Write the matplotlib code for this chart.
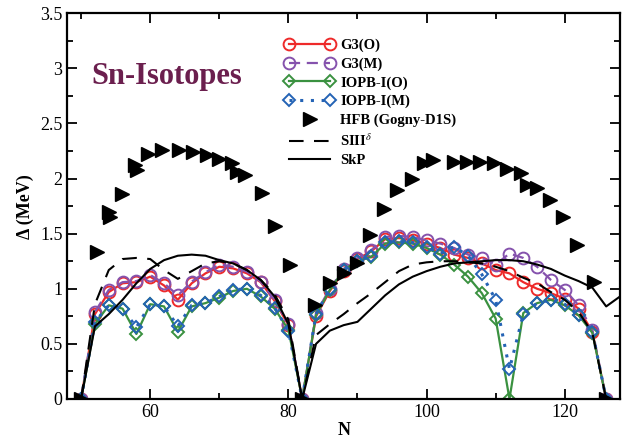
import matplotlib
matplotlib.use("Agg")
import matplotlib.pyplot as plt
from matplotlib.legend_handler import HandlerLine2D
from matplotlib.ticker import MultipleLocator, FormatStrFormatter

plt.rcParams['font.family'] = ['Liberation Serif', 'DejaVu Serif']
plt.rcParams['mathtext.fontset'] = 'stix'

# neutron numbers for the RMF curves
N = [50, 52, 54, 56, 58, 60, 62, 64, 66, 68, 70, 72, 74, 76, 78, 80, 82,
     84, 86, 88, 90, 92, 94, 96, 98, 100, 102, 104, 106, 108, 110, 112,
     114, 116, 118, 120, 122, 124, 126]

g3_o = [0, 0.77, 0.97, 1.05, 1.06, 1.11, 1.03, 0.90, 1.05, 1.14, 1.20, 1.185, 1.14, 1.06, 0.89, 0.67, 0,
        0.75, 0.98, 1.16, 1.27, 1.34, 1.45, 1.46, 1.44, 1.41, 1.37, 1.31, 1.28, 1.23, 1.17, 1.14,
        1.06, 1.00, 0.96, 0.91, 0.82, 0.61, 0]
g3_m = [0, 0.79, 0.99, 1.06, 1.07, 1.125, 1.05, 0.94, 1.065, 1.15, 1.22, 1.20, 1.155, 1.065, 0.90, 0.68, 0,
        0.78, 1.00, 1.18, 1.28, 1.35, 1.47, 1.48, 1.47, 1.44, 1.41, 1.37, 1.31, 1.28, 1.22, 1.32,
        1.28, 1.20, 1.08, 0.99, 0.85, 0.63, 0]
iopb_o = [0, 0.68, 0.85, 0.82, 0.59, 0.86, 0.84, 0.61, 0.84, 0.87, 0.92, 0.98, 1.00, 0.93, 0.82, 0.63, 0,
          0.76, 0.99, 1.17, 1.25, 1.29, 1.41, 1.42, 1.41, 1.37, 1.31, 1.22, 1.11, 0.96, 0.73, 0,
          0.78, 0.87, 0.90, 0.85, 0.76, 0.60, 0]
iopb_m = [0, 0.70, 0.85, 0.82, 0.65, 0.86, 0.84, 0.66, 0.85, 0.87, 0.93, 0.99, 1.00, 0.94, 0.83, 0.62, 0,
          0.77, 1.00, 1.17, 1.25, 1.30, 1.42, 1.43, 1.42, 1.38, 1.32, 1.38, 1.30, 1.13, 0.90, 0.27,
          0.77, 0.87, 0.90, 0.86, 0.76, 0.61, 0]

# HFB (Gogny-D1S)
hfb_n = [50, 52.3, 54.0, 54.2, 55.9, 57.8, 58.05, 59.7, 61.7, 64.1, 66.2, 68.2, 69.9, 71.8, 72.5, 73.7,
         76.2, 78.1, 80.3, 82, 83.9, 86.0, 88.0, 89.9, 91.8, 93.8, 95.7, 97.9, 99.6, 101.0, 103.9,
         105.8, 107.8, 109.7, 111.6, 113.6, 114.5, 116.0, 117.9, 119.8, 121.8, 124.2, 126]
hfb_d = [0, 1.33, 1.70, 1.65, 1.86, 2.12, 2.08, 2.22, 2.26, 2.26, 2.24, 2.21, 2.18, 2.14, 2.06, 2.03,
         1.87, 1.57, 1.22, 0, 0.85, 1.05, 1.14, 1.23, 1.49, 1.72, 1.90, 2.00, 2.14, 2.17, 2.15,
         2.15, 2.15, 2.14, 2.09, 2.05, 1.94, 1.91, 1.81, 1.65, 1.40, 1.06, 0]

# Skyrme curves
siii = [0, 0.86, 1.17, 1.27, 1.28, 1.27, 1.17, 1.09, 1.16, 1.23, 1.25, 1.23, 1.17, 1.08, 0.95, 0.72, 0,
        0.58, 0.68, 0.77, 0.87, 0.96, 1.06, 1.16, 1.22, 1.24, 1.25, 1.25, 1.24, 1.23, 1.20, 1.16,
        1.10, 1.05, 0.97, 0.90, 0.79, 0.60, 0]
skp_n = N + [128]
skp = [0, 0.66, 0.77, 0.90, 1.05, 1.18, 1.26, 1.30, 1.31, 1.30, 1.26, 1.23, 1.17, 1.08, 0.93, 0.68, 0,
       0.50, 0.62, 0.67, 0.70, 0.82, 0.94, 1.04, 1.11, 1.16, 1.20, 1.23, 1.24, 1.25, 1.26, 1.26,
       1.25, 1.22, 1.18, 1.12, 1.07, 1.01, 0.84, 0.93]

fig = plt.figure(figsize=(6.38, 4.42), dpi=100)
ax = fig.add_axes([0.1055, 0.0973, 0.8663, 0.8727])

ax.plot(N, g3_o, color='#ee2a2a', lw=1.6, marker='o', ms=8.5, mfc='none', mew=1.4, label='G3(O)')
ax.plot(N, g3_m, color='#8552ad', lw=1.6, ls=(0, (5, 3)), marker='o', ms=8.5, mfc='none', mew=1.4,
        label='G3(M)')
ax.plot(N, iopb_o, color='#3a9140', lw=1.6, marker='D', ms=6.5, mfc='none', mew=1.4, label='IOPB-I(O)')
ax.plot(N, iopb_m, color='#2463b5', lw=2.2, ls=(0, (1, 2.5)), marker='D', ms=6.5, mfc='none', mew=1.4,
        label='IOPB-I(M)')
hfb, = ax.plot(hfb_n, hfb_d, ls='none', marker='>', ms=10, color='black', label='HFB (Gogny-D1S)')
ax.plot(N, siii, color='black', lw=1.5, ls=(0, (7, 5)), label=r'SIII$^{\delta}$')
ax.plot(skp_n, skp, color='black', lw=1.5, label='SkP')

ax.set_xlim(48, 128)
ax.set_ylim(0, 3.5)
ax.xaxis.set_major_locator(MultipleLocator(20))
ax.xaxis.set_minor_locator(MultipleLocator(10))
ax.yaxis.set_major_locator(MultipleLocator(0.5))
ax.yaxis.set_minor_locator(MultipleLocator(0.25))
ax.yaxis.set_major_formatter(FormatStrFormatter('%g'))
ax.tick_params(which='both', direction='in', top=True, right=True, width=1.3, labelsize=13)
ax.tick_params(which='major', length=7)
ax.tick_params(which='minor', length=4)
for s in ax.spines.values():
    s.set_linewidth(1.6)

ax.set_xlabel('N', fontsize=13, fontweight='bold', labelpad=1)
ax.set_ylabel('Δ (MeV)', fontsize=13, fontweight='bold', labelpad=4)

ax.text(0.044, 2.93, 'Sn-Isotopes', transform=ax.get_yaxis_transform(), fontsize=22,
        fontweight='bold', color='#6b1f4e', va='center', ha='left')

ax.legend(loc='upper left', bbox_to_anchor=(0.37, 0.968), frameon=False,
          prop={'weight': 'bold', 'size': 10.5}, handlelength=3.4, handletextpad=0.4,
          labelspacing=0.36, numpoints=2, handler_map={hfb: HandlerLine2D(numpoints=1)})

fig.savefig('out.png', dpi=100)
